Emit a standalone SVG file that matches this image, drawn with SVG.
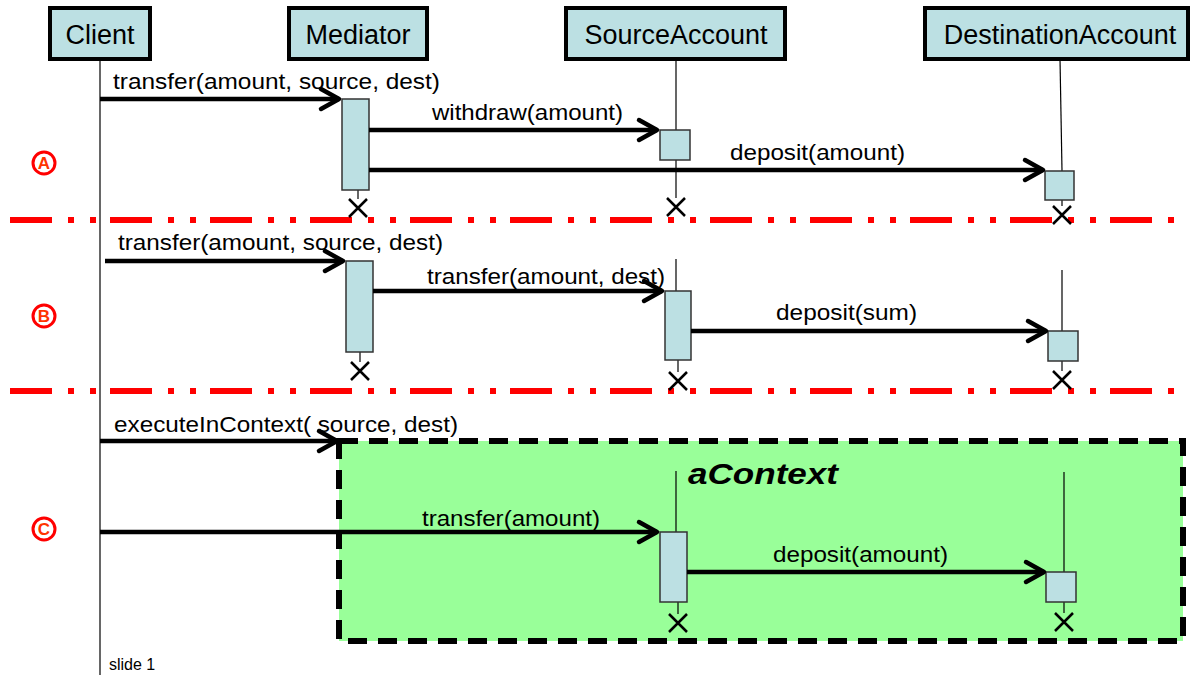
<svg xmlns="http://www.w3.org/2000/svg" width="1192" height="677" viewBox="0 0 1192 677">
<style>
.hdr{fill:#BCE0E3;stroke:#000;stroke-width:4}
.htxt{font-family:"Liberation Sans",Arial,sans-serif;font-size:27px;fill:#000;text-anchor:middle}
.act{fill:#BCE0E3;stroke:#333;stroke-width:1.5}
.ll{stroke:#000;stroke-width:1.2;fill:none}
.xm{stroke:#000;stroke-width:2.5;fill:none}
.msg{font-family:"Liberation Sans",Arial,sans-serif;font-size:22px;fill:#000}
.arr{stroke:#000;stroke-width:4.5;fill:none;marker-end:url(#ah)}
.sep{stroke:#FF0000;stroke-width:6;stroke-dasharray:42 16 6 16 6 14;fill:none}
.lblc{fill:#fff;stroke:#FF0000;stroke-width:3}
.lblt{font-family:"Liberation Sans",Arial,sans-serif;font-size:17px;font-weight:bold;fill:#FF3300;text-anchor:middle}
</style>
<defs>
<marker id="ah" markerUnits="userSpaceOnUse" markerWidth="30" markerHeight="30" viewBox="-24 -15 30 30" refX="0" refY="0" orient="auto" overflow="visible">
<path d="M-18,-10 L0,0 L-18,10" fill="none" stroke="#000" stroke-width="4.5" stroke-linecap="round" stroke-linejoin="round"/>
</marker>
</defs>
<rect width="1192" height="677" fill="#fff"/>

<g id="separators">
<line class="sep" x1="10" y1="220" x2="1174" y2="220"/>
<line class="sep" x1="10" y1="391" x2="1174" y2="391"/>
</g>

<g id="context">
<rect x="339" y="441" width="844" height="200" fill="#99FF99" stroke="#000" stroke-width="6" stroke-dasharray="19 11"/>
<text x="688" y="484" font-family="Liberation Sans, Arial, sans-serif" font-size="30" font-weight="bold" font-style="italic" textLength="150" lengthAdjust="spacingAndGlyphs">aContext</text>
</g>

<g id="section-labels">
<g id="label-A"><circle class="lblc" cx="44" cy="163" r="11"/><text class="lblt" x="44" y="169">A</text></g>
<g id="label-B"><circle class="lblc" cx="44" cy="316" r="11"/><text class="lblt" x="44" y="322">B</text></g>
<g id="label-C"><circle class="lblc" cx="44" cy="529" r="11"/><text class="lblt" x="44" y="535">C</text></g>
</g>

<g id="client">
<line class="ll" x1="100" y1="59" x2="100" y2="675"/>
<rect class="hdr" x="50" y="8" width="100" height="51"/>
<text class="htxt" x="100" y="44">Client</text>
</g>

<g id="mediator">
<rect class="hdr" x="289" y="8" width="138" height="51"/>
<text class="htxt" x="358" y="44">Mediator</text>
<line class="ll" x1="358" y1="190" x2="358" y2="199"/>
<rect class="act" x="342" y="99" width="27" height="91"/>
<path class="xm" d="M349,199 L367,217 M367,199 L349,217"/>
<line class="ll" x1="360" y1="352" x2="360" y2="362"/>
<rect class="act" x="346" y="261" width="27" height="91"/>
<path class="xm" d="M351,362 L369,380 M369,362 L351,380"/>
</g>

<g id="sourceAccount">
<rect class="hdr" x="566" y="8" width="219" height="51"/>
<text class="htxt" x="676" y="44">SourceAccount</text>
<line class="ll" x1="676" y1="59" x2="676" y2="198"/>
<rect class="act" x="660" y="130" width="30" height="30"/>
<path class="xm" d="M667,198 L685,216 M685,198 L667,216"/>
<line class="ll" x1="676" y1="259" x2="676" y2="291"/>
<line class="ll" x1="678" y1="360" x2="678" y2="372"/>
<rect class="act" x="665" y="291" width="26" height="69"/>
<path class="xm" d="M669,372 L687,390 M687,372 L669,390"/>
<line class="ll" x1="676" y1="471" x2="676" y2="532"/>
<line class="ll" x1="678" y1="602" x2="678" y2="614"/>
<rect class="act" x="660" y="532" width="27" height="70"/>
<path class="xm" d="M669,614 L687,632 M687,614 L669,632"/>
</g>

<g id="destinationAccount">
<rect class="hdr" x="925" y="8" width="263" height="51"/>
<text class="htxt" x="1060" y="44">DestinationAccount</text>
<line class="ll" x1="1060" y1="59" x2="1062" y2="171"/>
<line class="ll" x1="1062" y1="200" x2="1062" y2="206"/>
<rect class="act" x="1045" y="171" width="29" height="29"/>
<path class="xm" d="M1053,206 L1071,224 M1071,206 L1053,224"/>
<line class="ll" x1="1062" y1="270" x2="1062" y2="371"/>
<rect class="act" x="1048" y="331" width="30" height="30"/>
<path class="xm" d="M1053,371 L1071,389 M1071,371 L1053,389"/>
<line class="ll" x1="1064" y1="472" x2="1064" y2="613"/>
<rect class="act" x="1046" y="572" width="30" height="30"/>
<path class="xm" d="M1055,613 L1073,631 M1073,613 L1055,631"/>
</g>

<g id="connectors">
<line class="arr" x1="100" y1="99" x2="339" y2="99"/>
<line class="arr" x1="369" y1="130" x2="657" y2="130"/>
<line class="arr" x1="369" y1="170" x2="1043" y2="170"/>
<line class="arr" x1="105" y1="261" x2="343" y2="261"/>
<line class="arr" x1="373" y1="291" x2="662" y2="291"/>
<line class="arr" x1="691" y1="331" x2="1046" y2="331"/>
<line class="arr" x1="100" y1="441" x2="337" y2="441"/>
<line class="arr" x1="100" y1="532" x2="657" y2="532"/>
<line class="arr" x1="687" y1="572" x2="1044" y2="572"/>
</g>

<g id="messages">
<text class="msg" x="113" y="89" textLength="327" lengthAdjust="spacingAndGlyphs">transfer(amount, source, dest)</text>
<text class="msg" x="432" y="120" textLength="191" lengthAdjust="spacingAndGlyphs">withdraw(amount)</text>
<text class="msg" x="730" y="160" textLength="175" lengthAdjust="spacingAndGlyphs">deposit(amount)</text>
<text class="msg" x="118" y="250" textLength="325" lengthAdjust="spacingAndGlyphs">transfer(amount, source, dest)</text>
<text class="msg" x="427" y="284" textLength="238" lengthAdjust="spacingAndGlyphs">transfer(amount, dest)</text>
<text class="msg" x="776" y="320" textLength="141" lengthAdjust="spacingAndGlyphs">deposit(sum)</text>
<text class="msg" x="114" y="432" textLength="344" lengthAdjust="spacingAndGlyphs">executeInContext( source, dest)</text>
<text class="msg" x="422" y="526" textLength="178" lengthAdjust="spacingAndGlyphs">transfer(amount)</text>
<text class="msg" x="773" y="562" textLength="175" lengthAdjust="spacingAndGlyphs">deposit(amount)</text>
</g>

<text x="109" y="670" font-family="Liberation Sans, Arial, sans-serif" font-size="16" fill="#000">slide 1</text>
</svg>
